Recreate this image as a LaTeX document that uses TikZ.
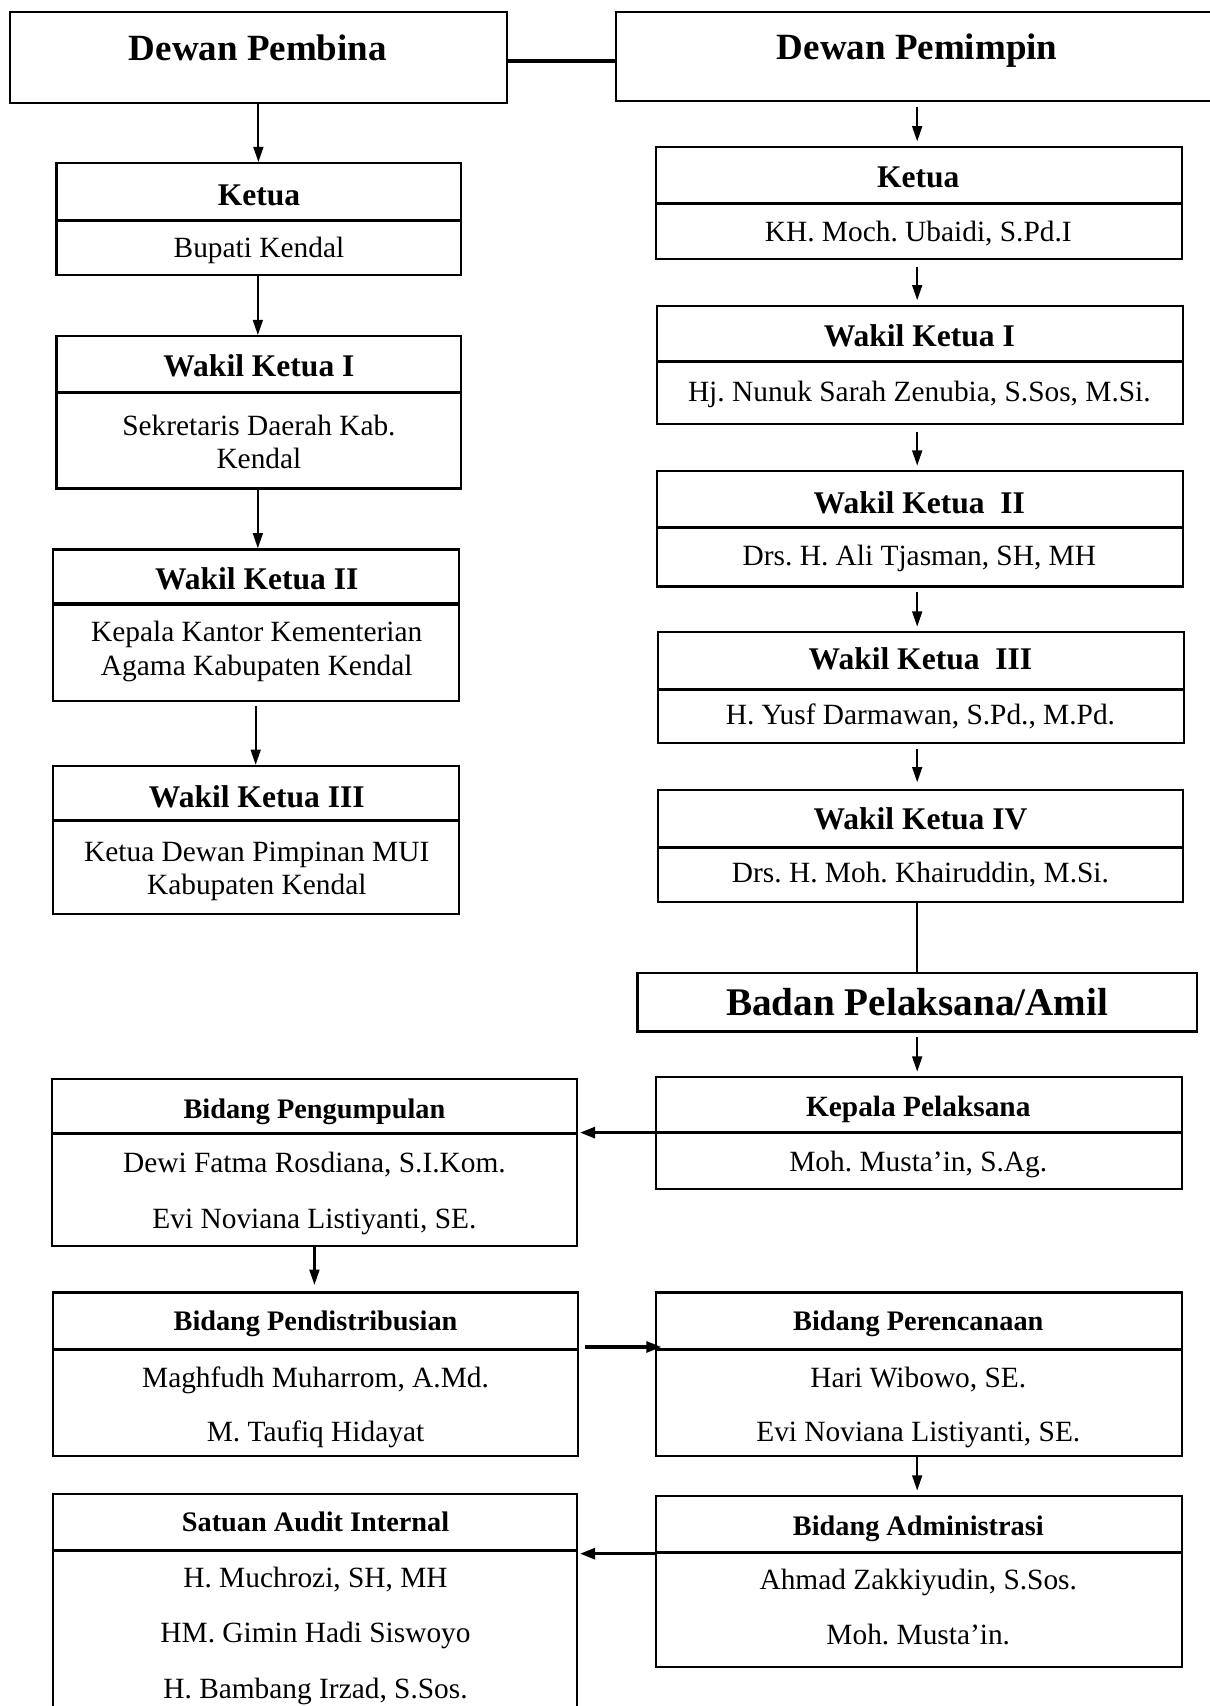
\documentclass[tikz,border=0pt]{standalone}
\usepackage{fontspec}
\setmainfont{Liberation Serif}
\usetikzlibrary{arrows.meta,fit,calc}
\frenchspacing
\begin{document}
\begin{tikzpicture}[x=0.5pt,y=-0.5pt,
  box/.style={draw, line width=1pt, inner sep=0pt, fit={#1}},
  divline/.style={line width=1.4pt},
  title/.style={font=\fontsize{17}{20}\selectfont\bfseries, anchor=base, inner sep=0pt},
  btitle/.style={font=\fontsize{18}{21}\selectfont\bfseries, anchor=base, inner sep=0pt},
  hd/.style={font=\fontsize{14.5}{17}\selectfont\bfseries, anchor=base, inner sep=0pt},
  hdm/.style={font=\fontsize{13.5}{16}\selectfont\bfseries, anchor=base, inner sep=0pt},
  hds/.style={font=\fontsize{13}{16}\selectfont\bfseries, anchor=base, inner sep=0pt},
  bd/.style={font=\fontsize{13.5}{16}\selectfont, anchor=base, inner sep=0pt},
  arr/.style={line width=1pt, -{Triangle[length=7pt,width=4.5pt]}},
  harr/.style={line width=1.5pt, -{Triangle[length=7pt,width=5pt]}},
  conn/.style={line width=1pt}
]
\useasboundingbox (0,0) rectangle (1112,1568);
\clip (0,0) rectangle (1112,1568);

% ---------- top boxes ----------
\node[box={(9,11) (466,95)}] (dpb) {};
\node[title] (dpbt) at (237,56) {Dewan Pembina};
\node[box={(566,11) (1130,93)}] (dpm) {};
\node[title] (dpmt) at (843,55) {Dewan Pemimpin};
\coordinate (topc) at (500,56);
\draw[line width=1.5pt] (dpb.east |- topc) -- (dpm.west |- topc);

% ---------- left column ----------
\node[box={(52,150) (424,253)}] (lk) {};
\coordinate (lkd) at (238,203);
\draw[divline] (lk.west |- lkd) -- (lk.east |- lkd);
\node[hd] (lkh) at (238,188.5) {Ketua};
\node[bd] (lkb) at (238,237) {Bupati Kendal};

\node[box={(52,309) (424,449)}] (lw1) {};
\coordinate (lw1d) at (238,361);
\draw[divline] (lw1.west |- lw1d) -- (lw1.east |- lw1d);
\node[hd] (lw1h) at (238,346.5) {Wakil Ketua I};
\node[bd] (lw1a) at (238,400) {Sekretaris Daerah Kab.};
\node[bd] (lw1b) at (238,431) {Kendal};

\node[box={(49,505) (422,644)}] (lw2) {};
\coordinate (lw2d) at (236,555);
\draw[line width=2pt] (lw2.west |- lw2d) -- (lw2.east |- lw2d);
\node[hd] (lw2h) at (236,541.5) {Wakil Ketua II};
\node[bd] (lw2a) at (236,590) {Kepala Kantor Kementerian};
\node[bd] (lw2b) at (236,621) {Agama Kabupaten Kendal};

\node[box={(49,704) (422,840)}] (lw3) {};
\coordinate (lw3d) at (236,754);
\draw[divline] (lw3.west |- lw3d) -- (lw3.east |- lw3d);
\node[hd] (lw3h) at (236,742.5) {Wakil Ketua III};
\node[bd] (lw3a) at (236,792) {Ketua Dewan Pimpinan MUI};
\node[bd] (lw3b) at (236,822) {Kabupaten Kendal};

\draw[arr] (dpb.south) -- (dpb.south |- lk.north);
\coordinate (la1) at (237,0);
\draw[arr] (lk.south -| la1) -- (lw1.north -| la1);
\coordinate (la2) at (237,449);
\draw[arr] (lw1.south -| la2) -- (lw2.north -| la2);
\coordinate (la3) at (235,649);
\draw[arr] (la3) -- (lw3.north -| la3);

% ---------- right column ----------
\node[box={(603,135) (1086,238)}] (rk) {};
\coordinate (rkd) at (844,187);
\draw[divline] (rk.west |- rkd) -- (rk.east |- rkd);
\node[hd] (rkh) at (844,172.5) {Ketua};
\node[bd] (rkb) at (844,222) {KH. Moch. Ubaidi, S.Pd.I};

\node[box={(604,281) (1087,390)}] (rw1) {};
\coordinate (rw1d) at (845,332);
\draw[divline] (rw1.west |- rw1d) -- (rw1.east |- rw1d);
\node[hd] (rw1h) at (845,318.5) {Wakil Ketua I};
\node[bd] (rw1b) at (845,369) {Hj. Nunuk Sarah Zenubia, S.Sos, M.Si.};

\node[box={(604,433) (1087,539)}] (rw2) {};
\coordinate (rw2d) at (845,485);
\draw[divline] (rw2.west |- rw2d) -- (rw2.east |- rw2d);
\node[hd] (rw2h) at (845,471.5) {Wakil Ketua\ \ II};
\node[bd] (rw2b) at (845,520) {Drs. H. Ali Tjasman, SH, MH};

\node[box={(605,581) (1088,683)}] (rw3) {};
\coordinate (rw3d) at (846,634);
\draw[divline] (rw3.west |- rw3d) -- (rw3.east |- rw3d);
\node[hd] (rw3h) at (846,615.5) {Wakil Ketua\ \ III};
\node[bd] (rw3b) at (846,666) {H. Yusf Darmawan, S.Pd., M.Pd.};

\node[box={(605,726) (1087,829)}] (rw4) {};
\coordinate (rw4d) at (846,779);
\draw[divline] (rw4.west |- rw4d) -- (rw4.east |- rw4d);
\node[hd] (rw4h) at (846,762.5) {Wakil Ketua IV};
\node[bd] (rw4b) at (846,811) {Drs. H. Moh. Khairuddin, M.Si.};

\node[box={(586,894) (1100,948)}] (bpa) {};
\node[btitle] (bpat) at (843,933) {Badan Pelaksana/Amil};

\node[box={(603,990) (1086,1093)}] (kp) {};
\coordinate (kpd) at (844,1041);
\draw[divline] (kp.west |- kpd) -- (kp.east |- kpd);
\node[hdm] (kph) at (844,1026) {Kepala Pelaksana};
\node[bd] (kpb) at (844,1077) {Moh. Musta’in, S.Ag.};

\coordinate (ra) at (843,0);
\draw[arr, shorten <=2pt, shorten >=2pt] (dpm.south -| ra) -- (rk.north -| ra);
\draw[arr, shorten <=3pt, shorten >=2pt] (rk.south -| ra) -- (rw1.north -| ra);
\draw[arr, shorten <=3pt, shorten >=2pt] (rw1.south -| ra) -- (rw2.north -| ra);
\draw[arr, shorten <=2pt, shorten >=2pt] (rw2.south -| ra) -- (rw3.north -| ra);
\draw[arr, shorten <=2pt, shorten >=3pt] (rw3.south -| ra) -- (rw4.north -| ra);
\draw[conn] (rw4.south -| ra) -- (bpa.north -| ra);
\draw[arr, shorten <=2pt, shorten >=2pt] (bpa.south -| ra) -- (kp.north -| ra);

% ---------- lower part ----------
\node[box={(48,992) (530,1145)}] (bpg) {};
\coordinate (bpgd) at (289,1042);
\draw[divline] (bpg.west |- bpgd) -- (bpg.east |- bpgd);
\node[hds] (bpgh) at (289,1028) {Bidang Pengumpulan};
\node[bd] (bpga) at (289,1078) {Dewi Fatma Rosdiana, S.I.Kom.};
\node[bd] (bpgb) at (289,1129) {Evi Noviana Listiyanti, SE.};

\node[box={(49,1188) (531,1338)}] (bpd) {};
\coordinate (bpdd) at (290,1240);
\draw[divline] (bpd.west |- bpdd) -- (bpd.east |- bpdd);
\node[hds] (bpdh) at (290,1223) {Bidang Pendistribusian};
\node[bd] (bpda) at (290,1275) {Maghfudh Muharrom, A.Md.};
\node[bd] (bpdb) at (290,1325) {M. Taufiq Hidayat};

\node[box={(603,1188) (1086,1338)}] (bpr) {};
\coordinate (bprd) at (844,1240);
\draw[divline] (bpr.west |- bprd) -- (bpr.east |- bprd);
\node[hds] (bprh) at (844,1223) {Bidang Perencanaan};
\node[bd] (bpra) at (844,1275) {Hari Wibowo, SE.};
\node[bd] (bprb) at (844,1325) {Evi Noviana Listiyanti, SE.};

\node[box={(603,1375) (1086,1532)}] (bad) {};
\coordinate (badd) at (844,1427);
\draw[divline] (bad.west |- badd) -- (bad.east |- badd);
\node[hds] (badh) at (844,1411) {Bidang Administrasi};
\node[bd] (bada) at (844,1461) {Ahmad Zakkiyudin, S.Sos.};
\node[bd] (badb) at (844,1511) {Moh. Musta’in.};

\node[box={(49,1373) (530,1600)}] (sai) {};
\coordinate (said) at (290,1425);
\draw[divline] (sai.west |- said) -- (sai.east |- said);
\node[hds] (saih) at (290,1408) {Satuan Audit Internal};
\node[bd] (saia) at (290,1459) {H. Muchrozi, SH, MH};
\node[bd] (saib) at (290,1510) {HM. Gimin Hadi Siswoyo};
\node[bd] (saic) at (290,1561) {H. Bambang Irzad, S.Sos.};

\draw[harr, shorten >=1pt] (kp.west |- kpd) -- (bpg.east |- kpd);
\coordinate (la4) at (289,0);
\draw[arr, shorten >=3pt] (bpg.south -| la4) -- (bpd.north -| la4);
\coordinate (hd2) at (0,1238);
\draw[harr, shorten <=3pt, shorten >=-3pt] (bpd.east |- hd2) -- (bpr.west |- hd2);
\draw[arr, shorten >=2pt] (bpr.south -| ra) -- (bad.north -| ra);
\coordinate (hd3) at (0,1428);
\draw[harr, shorten >=1pt] (bad.west |- hd3) -- (sai.east |- hd3);
\end{tikzpicture}
\end{document}
